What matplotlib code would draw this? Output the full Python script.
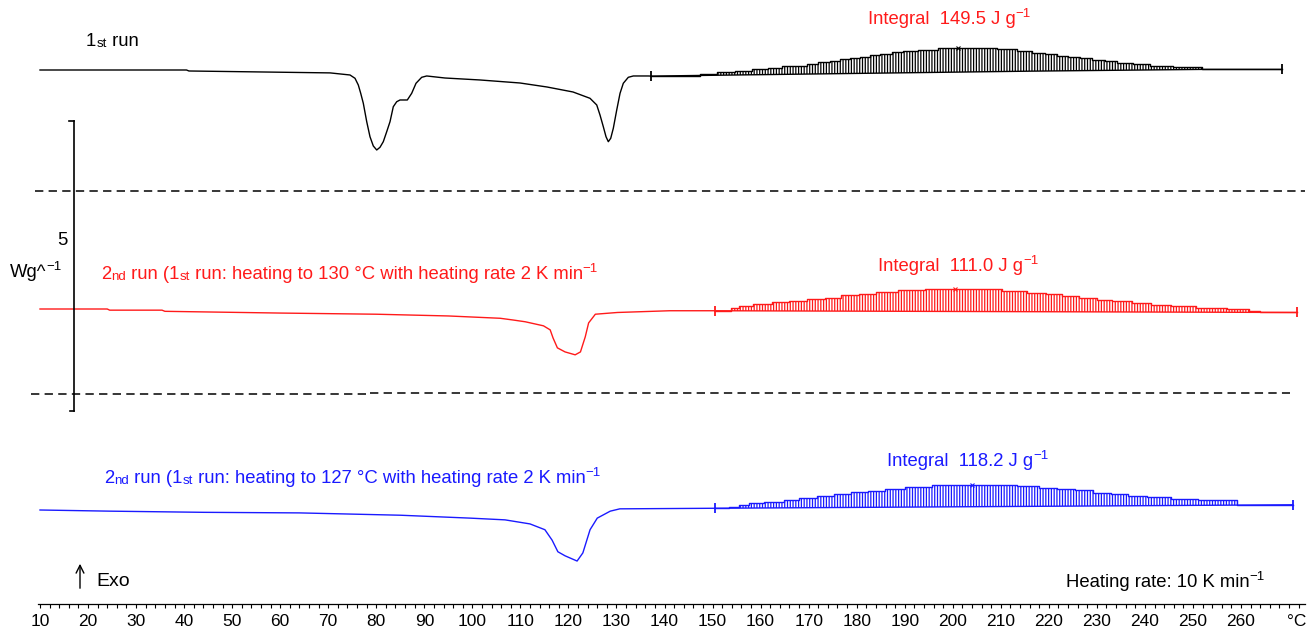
import numpy as np
import matplotlib
matplotlib.use("Agg")
import matplotlib.pyplot as plt

plt.rcParams['font.family'] = ['Liberation Sans', 'DejaVu Sans']
plt.rcParams['hatch.linewidth'] = 0.9
plt.rcParams['lines.scale_dashes'] = False

# ---------------- data (temperature in °C, signal in W g^-1) ----------------
BLACK_T = [10, 40.5, 41, 70.4, 74.53, 75.57, 76.26, 76.76, 77.30, 78.01, 78.69, 79.38, 80.09,
           80.77, 81.46, 82.17, 82.86, 83.54, 84.25, 84.94, 86.46, 87.37, 88.27, 89.45, 90.50,
           94.30, 101.59, 109.92, 115.54, 120.95, 124.49, 125.89, 126.57, 127.26, 127.82, 128.30,
           128.80, 129.34, 130.05, 130.74, 131.42, 132.46, 133.50, 136.62, 137.2]
BLACK_W = [0.00, 0.00, -0.017, -0.05, -0.086, -0.143, -0.259, -0.402, -0.574, -0.891, -1.150, -1.310, -1.379,
           -1.333, -1.236, -1.064, -0.891, -0.633, -0.547, -0.517, -0.517, -0.402, -0.229, -0.126, -0.103,
           -0.138, -0.172, -0.224, -0.293, -0.379, -0.488, -0.603, -0.776, -0.978, -1.150, -1.236,
           -1.178, -1.005, -0.690, -0.402, -0.229, -0.126, -0.103, -0.103, -0.105]
BLACK_INT_LIMITS = [137.2, 268.5]
BLACK_BASE_T = [137.2, 216.1, 251.5, 268.5]
BLACK_BASE_W = [-0.105, -0.02, 0.01, 0.01]
BLACK_STEP_T = [147.38, 150.92, 154.67, 158.21, 161.54, 164.45, 167.16, 169.66, 171.95, 174.45,
                176.53, 178.61, 180.70, 182.77, 184.85, 187.35, 189.64, 192.76, 196.93, 200.88,
                209.21, 213.37, 216.49, 219.20, 221.70, 223.99, 226.49, 228.98, 231.69, 234.19,
                237.52, 241.06, 245.84, 251.87, 260.83]
BLACK_STEP_H = [0.03, 0.05, 0.07, 0.10, 0.11, 0.14, 0.15, 0.17, 0.20, 0.22,
                0.25, 0.26, 0.28, 0.31, 0.33, 0.36, 0.38, 0.39, 0.42, 0.42,
                0.39, 0.35, 0.32, 0.29, 0.26, 0.24, 0.21, 0.19, 0.16, 0.13,
                0.11, 0.07, 0.04, 0.01, 0.0]
BLACK_PEAK_T = 201.1

RED_T = [10, 24, 24.5, 35.4, 36, 60, 80, 95, 105.8, 108.5, 111.0, 114.8, 116.2, 116.8, 117.7,
         119.3, 121.4, 122.5, 123.5, 124.2, 125.6, 130.2, 141.1, 150.5]
RED_W = [0, 0, -0.02, -0.02, -0.04, -0.07, -0.09, -0.12, -0.16, -0.19, -0.22, -0.29, -0.36, -0.50, -0.67,
         -0.74, -0.79, -0.74, -0.48, -0.24, -0.09, -0.06, -0.03, -0.03]
RED_INT_LIMITS = [150.5, 271.7]
RED_BASE_T = [150.5, 271.7]
RED_BASE_W = [-0.03, -0.06]
RED_STEP_T = [153.8, 155.5, 158.4, 162.4, 165.9, 169.7, 173.4, 176.7, 180.5, 184.0, 188.6, 194.2,
              210.2, 215.5, 219.4, 222.7, 226.3, 230.0, 233.1, 237.3, 241.3, 245.4, 250.6, 257.1,
              261.7, 264.0]
RED_STEP_H = [0.05, 0.09, 0.12, 0.15, 0.18, 0.21, 0.23, 0.27, 0.30, 0.33, 0.36, 0.38,
              0.36, 0.33, 0.30, 0.27, 0.23, 0.21, 0.18, 0.15, 0.12, 0.10, 0.07, 0.05,
              0.02, 0.0]
RED_PEAK_T = 200.5

BLUE_T = [10, 24.6, 44, 64, 85, 99.5, 106.8, 112, 115.1, 116.6, 117.8, 119.3, 121.8, 123, 124.5,
          126, 128.7, 130.7, 150.5]
BLUE_W = [0, -0.02, -0.04, -0.05, -0.09, -0.14, -0.17, -0.24, -0.34, -0.52, -0.72, -0.79, -0.88, -0.74, -0.34,
          -0.14, -0.02, 0.02, 0.03]
BLUE_INT_LIMITS = [150.5, 270.8]
BLUE_BASE_T = [150.5, 270.8]
BLUE_BASE_W = [0.03, 0.09]
BLUE_STEP_T = [153.4, 155.5, 157.6, 160.7, 164.9, 168.0, 171.7, 175.3, 178.8, 182.4, 185.9, 190.1,
               195.7, 213.4, 218.0, 221.7, 225.4, 229.2, 232.9, 236.5, 240.4, 245.4, 251.0, 259.2]
BLUE_STEP_H = [0.02, 0.05, 0.09, 0.11, 0.14, 0.17, 0.20, 0.23, 0.27, 0.29, 0.32, 0.35,
               0.38, 0.35, 0.32, 0.29, 0.27, 0.23, 0.21, 0.17, 0.15, 0.12, 0.09, 0.01]
BLUE_PEAK_T = 204.0

MAJOR_TICKS = list(range(10, 261, 10))
MINOR_TICKS = list(range(10, 273, 2))
SCALE_BAR_WG = 5

RED = '#ff1a1a'
BLUE = '#1a1aff'

# ---------------- layout ----------------
W_PX, H_PX = 1311, 633
X0_PX, PX_PER_DEG = 40.0, 4.804
PX_PER_WG = 58.0
AXIS_PY = 604.0


def px2T(px):
    return 10 + (px - X0_PX) / PX_PER_DEG


def py2v(py):
    return -py / PX_PER_WG


fig = plt.figure(figsize=(W_PX / 100, H_PX / 100), dpi=100)
ax = fig.add_axes([0, (H_PX - AXIS_PY) / H_PX, 1, AXIS_PY / H_PX])
ax.set_xlim(px2T(0), px2T(W_PX))
ax.set_ylim(py2v(AXIS_PY), 0)
ax.patch.set_visible(False)
for s in ['top', 'left', 'right']:
    ax.spines[s].set_visible(False)
ax.spines['bottom'].set_bounds(px2T(38), px2T(1305))
ax.spines['bottom'].set_linewidth(0.9)
ax.set_yticks([])
ax.set_xticks(MAJOR_TICKS)
ax.set_xticks([t for t in MINOR_TICKS if t not in MAJOR_TICKS], minor=True)
ax.tick_params(axis='x', which='both', direction='out', length=3, width=0.8, pad=4.5, labelsize=12.5)

offsets = {'black': py2v(70), 'red': py2v(309), 'blue': py2v(510)}


def draw_run(T, W, lim, bT, bW, sT, sH, peakT, off, color):
    ax.plot(T, off + np.array(W), color=color, lw=1.0)
    x = np.array([lim[0]] + sT + [lim[1]])
    h = np.array([0.0] + sH + [0.0])
    base = off + np.interp(x, bT, bW)
    top = base + h
    plt.rcParams['hatch.color'] = color
    ax.fill_between(x, base, top, step='post', facecolor='none', edgecolor=color,
                    hatch='||||||', linewidth=0)
    ax.step(x, top, where='post', color=color, lw=1.0)
    ax.plot(bT, off + np.array(bW), color=color, lw=1.0)
    ax.plot(lim, off + np.interp(lim, bT, bW), ls='none', marker='|', ms=7, mew=1.3, color=color)
    ax.plot([peakT], [top.max()], ls='none', marker='x', ms=3.5, mew=0.8, color=color)


draw_run(BLACK_T, BLACK_W, BLACK_INT_LIMITS, BLACK_BASE_T, BLACK_BASE_W, BLACK_STEP_T, BLACK_STEP_H,
         BLACK_PEAK_T, offsets['black'], 'black')
draw_run(RED_T, RED_W, RED_INT_LIMITS, RED_BASE_T, RED_BASE_W, RED_STEP_T, RED_STEP_H,
         RED_PEAK_T, offsets['red'], RED)
draw_run(BLUE_T, BLUE_W, BLUE_INT_LIMITS, BLUE_BASE_T, BLUE_BASE_W, BLUE_STEP_T, BLUE_STEP_H,
         BLUE_PEAK_T, offsets['blue'], BLUE)

# dashed separators
dash = dict(color='black', lw=1.1, dashes=(6, 3.8))
ax.plot([px2T(35), px2T(1305)], [py2v(190.7)] * 2, **dash)
ax.plot([px2T(31), px2T(370)], [py2v(393.5)] * 2, **dash)
ax.plot([px2T(370), px2T(1290)], [py2v(392.5)] * 2, **dash)

# scale bar (5 W/g)
sb_x = px2T(74)
sb_top = py2v(120.7)
ax.plot([sb_x, sb_x], [sb_top, sb_top - SCALE_BAR_WG], color='black', lw=1.2)
ax.plot([px2T(68.5), sb_x], [sb_top, sb_top], color='black', lw=1.2)
ax.plot([px2T(70), sb_x], [sb_top - SCALE_BAR_WG] * 2, color='black', lw=1.2)

# ---------------- overlay for text (pixel coordinates) ----------------
axo = fig.add_axes([0, 0, 1, 1])
axo.set_xlim(0, W_PX)
axo.set_ylim(H_PX, 0)
axo.axis('off')
axo.patch.set_visible(False)

FS = 13.3


def rich(x, y, parts, color='black', size=FS):
    prev = None
    for txt, mode in parts:
        fs = size if mode == 'n' else size * 0.72
        dy = size * 0.42 if mode == 'sup' else 0
        if prev is None:
            prev = axo.text(x, y, txt, color=color, fontsize=fs, ha='left', va='bottom')
        else:
            prev = axo.annotate(txt, xy=(1, 0), xycoords=prev, xytext=(0, dy),
                                textcoords='offset points', color=color, fontsize=fs,
                                ha='left', va='bottom')
    return prev


rich(86, 50, [('1', 'n'), ('st', 's'), (' run', 'n')])
rich(868, 28, [('Integral  149.5 J g', 'n'), ('\u22121', 'sup')], RED)
rich(101, 283, [('2', 'n'), ('nd', 's'), (' run (1', 'n'), ('st', 's'),
                (' run: heating to 130 \u00b0C with heating rate 2 K min', 'n'), ('\u22121', 'sup')], RED)
rich(878, 275, [('Integral  111.0 J g', 'n'), ('\u22121', 'sup')], RED)
rich(104, 487, [('2', 'n'), ('nd', 's'), (' run (1', 'n'), ('st', 's'),
                (' run: heating to 127 \u00b0C with heating rate 2 K min', 'n'), ('\u22121', 'sup')], BLUE)
rich(887, 470, [('Integral  118.2 J g', 'n'), ('\u22121', 'sup')], BLUE)
rich(1066, 591, [('Heating rate: 10 K min', 'n'), ('\u22121', 'sup')])
rich(96, 590, [('Exo', 'n')], size=14)
rich(57, 249, [('5', 'n')])
rich(10, 281, [('Wg^', 'n'), ('\u22121', 'sup')])
axo.text(1297, 621, '\u00b0C', ha='center', va='center', fontsize=12.5)
axo.annotate('', xy=(80, 561), xytext=(80, 591),
             arrowprops=dict(arrowstyle='->', lw=1.0, color='black', mutation_scale=14))

fig.savefig('out.png', dpi=100)
